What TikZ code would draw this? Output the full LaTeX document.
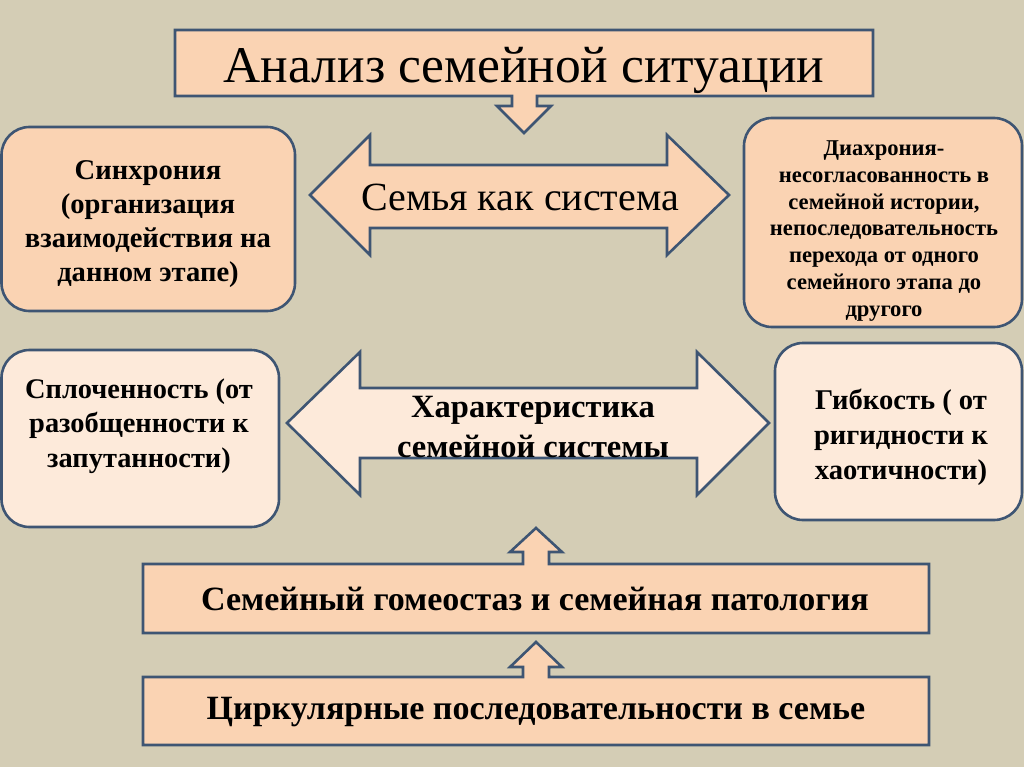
\documentclass[tikz,border=0pt]{standalone}
\usepackage{fontspec}
\setmainfont{Liberation Serif}
\definecolor{canvas}{HTML}{D4CDB5}
\definecolor{peach}{HTML}{FAD3B3}
\definecolor{pale}{HTML}{FDEADA}
\definecolor{edge}{HTML}{3E5573}
\begin{document}
\begin{tikzpicture}[x=1pt,y=-1pt]
  \tikzstyle{outlined}=[draw=edge, line width=2.6pt, line join=miter]
  \tikzstyle{peachfill}=[fill=peach]
  \tikzstyle{palefill}=[fill=pale]
  \tikzstyle{roundbox}=[outlined, rounded corners=28pt]
  \tikzstyle{caption}=[align=center, inner sep=0pt]

  \fill[canvas] (0,0) rectangle (1024,767);
  \useasboundingbox (0,0) rectangle (1024,767);

  % top box with arrow down
  \draw[outlined, peachfill] (175,30) -- (873,30) -- (873,96) -- (537,96) -- (537,106) -- (551,106)
    -- (524,133) -- (497,106) -- (512,106) -- (512,96) -- (175,96) -- cycle;

  % side boxes
  \draw[roundbox, peachfill] (1.5,127) rectangle (295,311);
  \draw[roundbox, peachfill] (744,118) rectangle (1022,327);
  \draw[roundbox, palefill] (1.5,350) rectangle (279,527);
  \draw[roundbox, palefill] (775,343) rectangle (1022,520);

  % double arrows
  \draw[outlined, peachfill] (310,195) -- (370,135) -- (370,165) -- (667,165) -- (667,135) -- (729,195)
    -- (667,255) -- (667,228) -- (370,228) -- (370,255) -- cycle;
  \draw[outlined, palefill] (287,423) -- (360,352) -- (360,388) -- (697,388) -- (697,352) -- (769,423)
    -- (697,495) -- (697,458) -- (360,458) -- (360,495) -- cycle;

  % bottom boxes with arrow up
  \draw[outlined, peachfill] (143,564) -- (523,564) -- (523,552) -- (510,552) -- (536,528) -- (562,552)
    -- (549,552) -- (549,564) -- (929,564) -- (929,633) -- (143,633) -- cycle;
  \draw[outlined, peachfill] (143,677) -- (523,677) -- (523,667) -- (510,667) -- (536,642) -- (562,667)
    -- (549,667) -- (549,677) -- (929,677) -- (929,745) -- (143,745) -- cycle;

  \node[caption, font=\fontsize{51.5}{56}\selectfont] (title) at (524,70) {Анализ семейной ситуации};
  \node[caption, font=\fontsize{40}{44}\selectfont] (system) at (520,197) {Семья как система};
  \node[caption, font=\fontsize{28.6}{34.2}\selectfont\bfseries] (synchrony) at (148,224)
    {Синхрония\\(организация\\взаимодействия на\\данном этапе)};
  \node[caption, font=\fontsize{22.6}{26.7}\selectfont\bfseries] (diachrony) at (884,231)
    {Диахрония-\\несогласованность в\\семейной истории,\\непоследовательность\\перехода от одного\\семейного этапа до\\другого};
  \node[caption, font=\fontsize{28.4}{34.5}\selectfont\bfseries] (cohesion) at (139,426)
    {Сплоченность (от\\разобщенности к\\запутанности)};
  \node[caption, font=\fontsize{32.5}{39.5}\selectfont\bfseries] (feature) at (533,427)
    {Характеристика\\семейной системы};
  \node[caption, font=\fontsize{28.6}{35}\selectfont\bfseries] (flexibility) at (901,437)
    {Гибкость ( от\\ригидности к\\хаотичности)};
  \node[caption, font=\fontsize{34}{38}\selectfont\bfseries] (homeostasis) at (535,599)
    {Семейный гомеостаз и семейная патология};
  \node[caption, font=\fontsize{34}{38}\selectfont\bfseries] (circular) at (536,712)
    {Циркулярные последовательности в семье};
\end{tikzpicture}
\end{document}
